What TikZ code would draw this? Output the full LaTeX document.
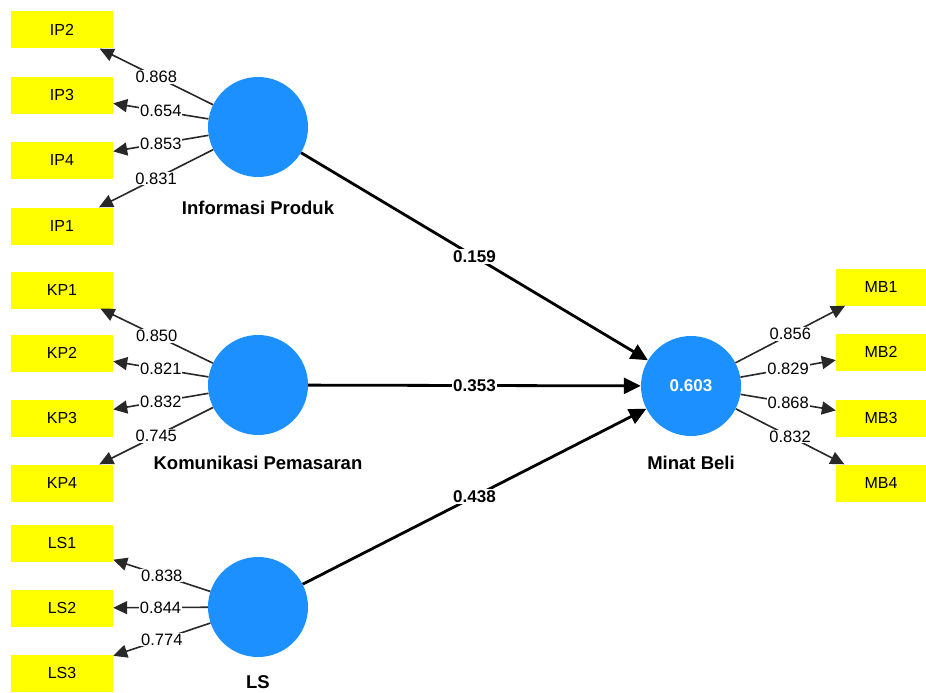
\documentclass[tikz,border=0pt]{standalone}
\usepackage{fontspec}
\setmainfont{Liberation Sans}
\usetikzlibrary{arrows.meta}
\definecolor{lvblue}{RGB}{28,144,255}
\definecolor{indyellow}{RGB}{255,255,0}
\definecolor{loadline}{RGB}{40,40,40}
\begin{document}
\begin{tikzpicture}[x=1pt,y=-1pt,
  ind/.style={fill=indyellow, minimum width=102pt, minimum height=37pt, inner sep=0pt, font=\fontsize{16}{18}\selectfont},
  lv/.style={circle, fill=lvblue, minimum size=100pt, inner sep=0pt, font=\fontsize{17}{19}\selectfont\bfseries, text=white},
  lvname/.style={font=\fontsize{18.5}{21}\selectfont\bfseries},
  load/.style={draw=loadline, line width=1.6pt, -{Triangle[length=14pt,width=13pt]}},
  pathc/.style={draw=black, line width=2.8pt, -{Triangle[length=17pt,width=16pt]}},
  lbl/.style={fill=white, inner sep=1pt, font=\fontsize{16.5}{18}\selectfont},
  plbl/.style={fill=white, inner sep=1pt, font=\fontsize{17}{19}\selectfont\bfseries}
]
\useasboundingbox[fill=white] (0,0) rectangle (926,693);
% indicators
\node[ind] (ip2) at (62,30) {IP2};
\node[ind] (ip3) at (62,95) {IP3};
\node[ind] (ip4) at (62,160) {IP4};
\node[ind] (ip1) at (62,226) {IP1};
\node[ind] (kp1) at (62,290) {KP1};
\node[ind] (kp2) at (62,353) {KP2};
\node[ind] (kp3) at (62,418) {KP3};
\node[ind] (kp4) at (62,483) {KP4};
\node[ind] (ls1) at (62,543) {LS1};
\node[ind] (ls2) at (62,608) {LS2};
\node[ind] (ls3) at (62,673) {LS3};
\node[ind, minimum width=90pt] (mb1) at (881,287) {MB1};
\node[ind, minimum width=90pt] (mb2) at (881,352) {MB2};
\node[ind, minimum width=90pt] (mb3) at (881,418) {MB3};
\node[ind, minimum width=90pt] (mb4) at (881,483) {MB4};
% latent variables
\node[lv] (ip) at (258,127) {};
\node[lv] (kp) at (258,385) {};
\node[lv] (ls) at (258,607) {};
\node[lv] (mb) at (691,386) {0.603};
\node[lvname] (ipn) at (258,208) {Informasi Produk};
\node[lvname] (kpn) at (258,463) {Komunikasi Pemasaran};
\node[lvname] (lsn) at (258,682) {LS};
\node[lvname] (mbn) at (691,463) {Minat Beli};
% loadings
\draw[load] (ip) -- node[lbl] {0.868} (ip2);
\draw[load] (ip) -- node[lbl] {0.654} (ip3);
\draw[load] (ip) -- node[lbl] {0.853} (ip4);
\draw[load] (ip) -- node[lbl] {0.831} (ip1);
\draw[load] (kp) -- node[lbl] {0.850} (kp1);
\draw[load] (kp) -- node[lbl] {0.821} (kp2);
\draw[load] (kp) -- node[lbl] {0.832} (kp3);
\draw[load] (kp) -- node[lbl] {0.745} (kp4);
\draw[load] (ls) -- node[lbl] {0.838} (ls1);
\draw[load] (ls) -- node[lbl] {0.844} (ls2);
\draw[load] (ls) -- node[lbl] {0.774} (ls3);
\draw[load] (mb) -- node[lbl] {0.856} (mb1);
\draw[load] (mb) -- node[lbl] {0.829} (mb2);
\draw[load] (mb) -- node[lbl] {0.868} (mb3);
\draw[load] (mb) -- node[lbl] {0.832} (mb4);
% path coefficients
\draw[pathc] (ip) -- node[plbl] {0.159} (mb);
\draw[pathc] (kp) -- node[plbl] {0.353} (mb);
\draw[pathc] (ls) -- node[plbl] {0.438} (mb);
\end{tikzpicture}
\end{document}
